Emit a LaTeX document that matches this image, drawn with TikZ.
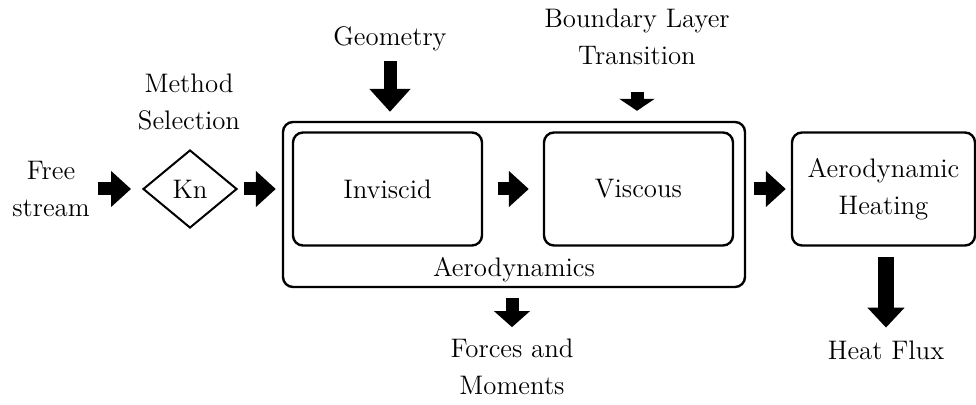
\documentclass[tikz,border=0pt]{standalone}
\usepackage{tikz}
\usetikzlibrary{arrows.meta,positioning,shapes.geometric}
\definecolor{ink}{HTML}{000000}
\newcommand{\diagfont}{\fontsize{13.4pt}{18.6pt}\selectfont}
\tikzset{
  box/.style   ={rounded corners=5pt,draw=ink,line width=1.2pt,fill=white,
                 inner sep=0pt,align=center,font=\diagfont,
                 minimum width=94.5pt,minimum height=56.5pt},
  zone/.style  ={rounded corners=5pt,draw=ink,line width=1.2pt,inner sep=0pt,
                 minimum width=231pt,minimum height=82.5pt},
  choice/.style={diamond,draw=ink,line width=1pt,inner sep=0pt,font=\diagfont,
                 minimum width=47pt,minimum height=39pt},
  lbl/.style   ={inner sep=0pt,align=center,font=\diagfont},
  flow/.style  ={-{Triangle[width=17.5pt,length=10pt]},line width=6.5pt,draw=ink},
  bigflow/.style={-{Triangle[width=18pt,length=10pt]},line width=8pt,draw=ink}
}
\begin{document}
\begin{tikzpicture}[x=0.5pt,y=-0.5pt]
  \useasboundingbox (0,0) rectangle (976,405);
  % blocks
  \node[zone] (aero) at (514,204.5) {};
  \node[box] (inv) at (387.5,189) {Inviscid};
  \node[box] (visc) at (638.5,189) {Viscous};
  \node[box,minimum width=91.5pt] (heat) at (883.5,189) {Aerodynamic\\Heating};
  \node[choice] (kn) at (190,189) {Kn};
  \node[lbl,above=3pt of aero.south] (aerolbl) {Aerodynamics};
  % inputs and outputs
  \node[lbl] (free) at (51,189) {Free\\stream};
  \node[lbl] (method) at (189,101.7) {Method\\Selection};
  \node[lbl,anchor=base] (geo) at (390,46) {Geometry};
  \node[lbl] (trans) at (637,37.2) {Boundary Layer\\Transition};
  \node[lbl] (forces) at (512,367) {Forces and\\Moments};
  \node[lbl,anchor=base] (flux) at (886,360) {Heat Flux};
  % arrows
  \draw[flow,shorten <=4pt,shorten >=5.5pt] (free.east) -- (kn.west);
  \draw[flow,shorten <=3pt,shorten >=3pt] (kn.east) -- (kn.east -| aero.west);
  \draw[flow,shorten <=7.5pt,shorten >=7pt] (inv) -- (visc);
  \draw[flow,shorten <=4pt,shorten >=2.5pt] (aero.east |- heat) -- (heat.west);
  \draw[flow,-{Triangle[width=20pt,length=11.5pt]},shorten <=4.5pt,shorten >=4.5pt]
    (geo) -- (geo |- aero.north);
  \draw[flow,-{Triangle[width=17.5pt,length=6pt]},shorten <=13pt,shorten >=5pt]
    (trans) -- (trans |- aero.north);
  \draw[flow,-{Triangle[width=17.5pt,length=8pt]},shorten <=5pt,shorten >=5.7pt]
    (aero.south -| forces) -- (forces);
  \draw[bigflow,shorten <=5pt,shorten >=6.7pt] (heat.south -| flux) -- (flux);
\end{tikzpicture}
\end{document}
